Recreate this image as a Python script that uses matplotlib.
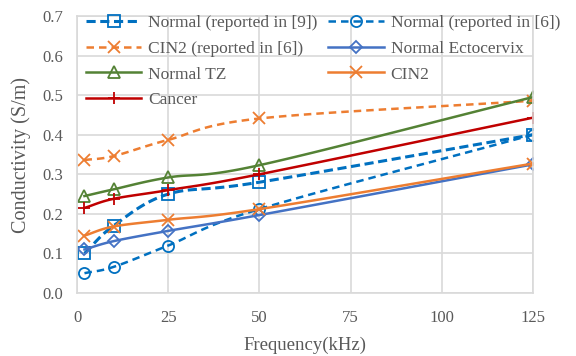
import numpy as np
import matplotlib
matplotlib.use('Agg')
import matplotlib.pyplot as plt

plt.rcParams['font.family'] = ['Liberation Serif', 'DejaVu Serif']

freq = [2, 10, 25, 50, 125]

normal_9 = [0.100, 0.170, 0.250, 0.280, 0.400]
normal_6 = [0.050, 0.066, 0.120, 0.212, 0.400]
cin2_6 = [0.336, 0.346, 0.387, 0.441, 0.486]
normal_ecto = [0.110, 0.131, 0.157, 0.197, 0.325]
normal_tz = [0.245, 0.262, 0.292, 0.323, 0.495]
cin2 = [0.145, 0.168, 0.185, 0.212, 0.327]
cancer = [0.215, 0.238, 0.260, 0.300, 0.443]


def smooth(x, y, n=30):
    # catmull-rom para imitar las lineas suavizadas de Excel
    x = np.asarray(x, float)
    y = np.asarray(y, float)
    px = np.concatenate([[2*x[0]-x[1]], x, [2*x[-1]-x[-2]]])
    py = np.concatenate([[2*y[0]-y[1]], y, [2*y[-1]-y[-2]]])
    xs, ys = [], []
    t = np.linspace(0, 1, n)
    for i in range(1, len(px)-2):
        for p, out in ((px, xs), (py, ys)):
            p0, p1, p2, p3 = p[i-1], p[i], p[i+1], p[i+2]
            m1 = (p2 - p0) / 2
            m2 = (p3 - p1) / 2
            h00 = 2*t**3 - 3*t**2 + 1
            h10 = t**3 - 2*t**2 + t
            h01 = -2*t**3 + 3*t**2
            h11 = t**3 - t**2
            out.extend(h00*p1 + h10*m1 + h01*p2 + h11*m2)
    return np.array(xs), np.array(ys)


series = [
    (normal_9, 'Normal (reported in [9])', '#0070C0', 's', (0, (3, 1.5)), 2.2),
    (normal_6, 'Normal (reported in [6])', '#0070C0', 'o', (0, (3, 2)), 1.8),
    (cin2_6, 'CIN2 (reported in [6])', '#ED7D31', 'x', (0, (3, 2)), 1.8),
    (normal_ecto, 'Normal Ectocervix', '#4472C4', 'D', '-', 1.8),
    (normal_tz, 'Normal TZ', '#548235', '^', '-', 1.8),
    (cin2, 'CIN2', '#ED7D31', 'x', '-', 1.8),
    (cancer, 'Cancer', '#C00000', '+', '-', 1.8),
]

fig = plt.figure(figsize=(5.76, 3.56), dpi=100)
ax = fig.add_axes([0.134, 0.177, 0.791, 0.778])

handles = []
for vals, lab, col, mk, ls, lw in series:
    sx, sy = smooth(freq, vals)
    ax.plot(sx, sy, color=col, ls=ls, lw=lw)
    ms = 9 if mk in ('x', '+') else 8
    if mk == 'D':
        ms = 6
    ax.plot(freq, vals, ls='none', marker=mk, ms=ms, mfc='none', mec=col, mew=1.3)
    h, = ax.plot([], [], color=col, ls=ls, lw=lw, marker=mk, ms=ms, mfc='none', mec=col,
                 mew=1.3, label=lab)
    handles.append(h)

ax.set_xlim(0, 125)
ax.set_ylim(0, 0.7)
ax.set_xticks([0, 25, 50, 75, 100, 125])
ax.set_yticks(np.arange(0, 0.71, 0.1))
ax.set_yticklabels([f'{v:.1f}' for v in np.arange(0, 0.71, 0.1)])
ax.grid(True, color='#D9D9D9', lw=1.2)
ax.set_axisbelow(True)
for s in ax.spines.values():
    s.set_color('#D9D9D9')
    s.set_linewidth(1.2)
ax.tick_params(axis='x', length=0, labelsize=12, colors='#595959', pad=12)
ax.tick_params(axis='y', length=0, labelsize=12, colors='#595959', pad=10)
ax.set_xlabel('Frequency(kHz)', fontsize=13.5, color='#595959', labelpad=8)
ax.set_ylabel('Conductivity (S/m)', fontsize=14.5, color='#595959', labelpad=8)

# orden por filas como en Excel
orden = [0, 2, 4, 6, 1, 3, 5]
ax.legend([handles[i] for i in orden], [handles[i].get_label() for i in orden],
          loc='upper left', ncol=2, frameon=False, fontsize=12.5, handlelength=3.2,
          columnspacing=0.6, labelspacing=0.55, borderaxespad=0.1, handletextpad=0.4,
          bbox_to_anchor=(0.0, 1.035), labelcolor='#595959')

fig.savefig('out.png', dpi=100)
